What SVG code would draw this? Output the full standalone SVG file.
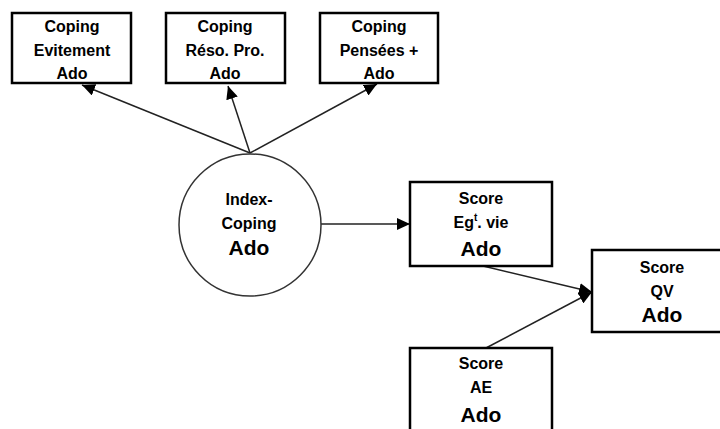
<svg xmlns="http://www.w3.org/2000/svg" width="720" height="429" viewBox="0 0 720 429">
<defs>
<marker id="ah" viewBox="0 0 13 12" refX="13" refY="6" markerWidth="13" markerHeight="12" markerUnits="userSpaceOnUse" orient="auto">
<path d="M0,0 L13,6 L0,12 z" fill="#000"/>
</marker>
</defs>
<style>
.box{fill:#fff;stroke:#000;stroke-width:2.5}
.circ{fill:#fff;stroke:#333;stroke-width:1.5}
.t{font-family:"Liberation Sans",Arial,sans-serif;font-weight:bold;font-size:16px;fill:#000;text-anchor:middle}
.big{font-size:21px}
.sup{font-size:10px}
.edge{stroke:#222;stroke-width:1.5;fill:none;marker-end:url(#ah)}
</style>
<rect width="720" height="429" fill="#fff"/>
<g id="connectors">
<line class="edge" x1="250" y1="153" x2="82" y2="85"/>
<line class="edge" x1="250" y1="153" x2="228" y2="86"/>
<line class="edge" x1="250" y1="153" x2="377" y2="84"/>
<line class="edge" x1="321" y1="224" x2="410" y2="224"/>
<line class="edge" x1="483" y1="266" x2="592" y2="292"/>
<line class="edge" x1="486" y1="348" x2="592" y2="292"/>
</g>
<g id="coping-evitement">
<rect class="box" x="12" y="13" width="119" height="70"/>
<text class="t" x="72" y="32">Coping</text>
<text class="t" x="72" y="56">Evitement</text>
<text class="t" x="72" y="79">Ado</text>
</g>
<g id="coping-reso">
<rect class="box" x="166" y="13" width="119" height="70"/>
<text class="t" x="225" y="32">Coping</text>
<text class="t" x="225" y="56">Réso. Pro.</text>
<text class="t" x="225" y="79">Ado</text>
</g>
<g id="coping-pensees">
<rect class="box" x="320" y="13" width="118" height="70"/>
<text class="t" x="379" y="32">Coping</text>
<text class="t" x="379" y="56">Pensées +</text>
<text class="t" x="379" y="79">Ado</text>
</g>
<g id="index-coping">
<circle class="circ" cx="250" cy="225" r="71"/>
<text class="t" x="249" y="205">Index-</text>
<text class="t" x="249" y="229">Coping</text>
<text class="t big" x="249" y="255">Ado</text>
</g>
<g id="score-egt">
<rect class="box" x="410" y="182" width="142" height="84"/>
<text class="t" x="481" y="204">Score</text>
<text class="t" x="481" y="228">Eg<tspan class="sup" dy="-7">t</tspan><tspan dy="7">. vie</tspan></text>
<text class="t big" x="481" y="256">Ado</text>
</g>
<g id="score-qv">
<rect class="box" x="592" y="250" width="140" height="82"/>
<text class="t" x="662" y="273">Score</text>
<text class="t" x="662" y="297">QV</text>
<text class="t big" x="662" y="322">Ado</text>
</g>
<g id="score-ae">
<rect class="box" x="410" y="348" width="142" height="90"/>
<text class="t" x="481" y="369">Score</text>
<text class="t" x="481" y="393">AE</text>
<text class="t big" x="481" y="422">Ado</text>
</g>
</svg>
